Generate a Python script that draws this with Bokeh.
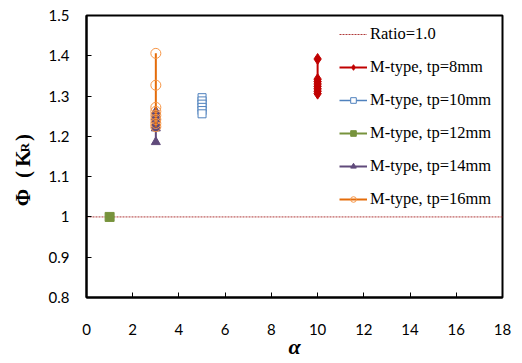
import math
from bokeh.plotting import figure
from bokeh.layouts import row
from bokeh.models import (Range1d, FixedTicker, CustomJSTickFormatter, Legend,
                          LegendItem)
from bokeh.core.properties import value
from bokeh.embed import file_html
from bokeh.resources import INLINE

# ---- data ----
ratio_x = [0, 18]
ratio_y = [1.0, 1.0]

x8 = [10, 10, 10, 10, 10, 10, 10, 10]
y8 = [1.392, 1.342, 1.336, 1.330, 1.324, 1.318, 1.312, 1.306]

x10 = [5, 5, 5, 5, 5, 5]
y10 = [1.296, 1.288, 1.280, 1.272, 1.264, 1.256]

x12 = [1]
y12 = [1.0]

x14 = [3, 3, 3, 3, 3, 3, 3, 3]
y14 = [1.262, 1.255, 1.248, 1.241, 1.234, 1.227, 1.220, 1.186]

x16 = [3, 3, 3, 3, 3, 3, 3, 3]
y16 = [1.406, 1.327, 1.272, 1.262, 1.252, 1.242, 1.232, 1.224]

x_ticks = [0, 2, 4, 6, 8, 10, 12, 14, 16, 18]
y_ticks = [0.8, 0.9, 1.0, 1.1, 1.2, 1.3, 1.4, 1.5]

labels = ["Ratio=1.0", "M-type, tp=8mm", "M-type, tp=10mm", "M-type, tp=12mm",
          "M-type, tp=14mm", "M-type, tp=16mm"]
x_title = "α"
y_title_parts = ["Φ", "(", "K", "R", ")"]

H = 363
LW = 44
TOP, BOT = 15, 297   # frame top/bottom in page pixels (row aligns frames)

# ---- left strip holding the y title (coordinates = page pixels) ----
L = figure(width=LW, height=H, output_backend="svg", toolbar_location=None,
           x_range=Range1d(0, LW), y_range=Range1d(BOT, TOP),
           x_axis_location=None, y_axis_location=None,
           min_border_left=0, min_border_right=0, min_border_top=TOP,
           min_border_bottom=H - BOT)
L.grid.visible = False
L.outline_line_color = None
part_x = [22, 22, 22, 24, 22]
part_y = [197, 174, 158, 147, 137]
part_size = ["21px", "21px", "21px", "13px", "21px"]
for t, xx, yy, fs in zip(y_title_parts, part_x, part_y, part_size):
    L.text(x=[xx], y=[yy], text=[t], angle=math.pi / 2,
           text_font=value("Liberation Serif"), text_font_style="bold",
           text_font_size=fs, text_align="center", text_baseline="middle",
           text_color="black")

# ---- main figure ----
p = figure(width=514 - LW, height=H, output_backend="svg", toolbar_location=None,
           x_range=Range1d(0, 18), y_range=Range1d(0.8, 1.5),
           min_border_left=86 - LW, min_border_right=12, min_border_top=TOP,
           min_border_bottom=H - BOT)
p.grid.visible = False
p.outline_line_color = "black"
p.outline_line_width = 2

for ax in (p.xaxis[0], p.yaxis[0]):
    ax.axis_line_color = "black"
    ax.axis_line_width = 2
    ax.major_tick_in = 5
    ax.major_tick_out = 0
    ax.major_tick_line_color = "black"
    ax.major_tick_line_width = 1
    ax.minor_tick_line_color = None
    ax.major_label_text_font = "Lato"
    ax.major_label_text_font_size = "15px"
    ax.major_label_text_color = "black"

p.xaxis.ticker = FixedTicker(ticks=x_ticks)
p.yaxis.ticker = FixedTicker(ticks=y_ticks)
p.yaxis.formatter = CustomJSTickFormatter(code="return tick.toFixed(1).replace(/\\.0$/, '');")
p.xaxis.major_label_standoff = 26
p.yaxis.major_label_standoff = 17
p.xaxis.axis_label = x_title
p.xaxis.axis_label_text_font = "Liberation Serif"
p.xaxis.axis_label_text_font_style = "bold italic"
p.xaxis.axis_label_text_font_size = "22px"
p.xaxis.axis_label_text_color = "black"
p.xaxis.axis_label_standoff = -4

# ---- series ----
r_ratio = p.line(ratio_x, ratio_y, line_color="#b03a3a", line_width=1, line_dash="2 1")

l8 = p.line(x8, y8, line_color="#C00000", line_width=2)
s8 = p.scatter(x8, y8, marker="diamond", size=11, fill_color="#C00000", line_color="#C00000")

l10 = p.line(x10, y10, line_color="#4F81BD", line_width=1.5)
s10 = p.scatter(x10, y10, marker="square", size=8, fill_color="white", line_color="#4F81BD", line_width=1)

l12 = p.line(x12, y12, line_color="#77933C", line_width=2)
s12 = p.scatter(x12, y12, marker="square", size=9, fill_color="#77933C", line_color="#77933C")

l14 = p.line(x14, y14, line_color="#604A7B", line_width=2)
s14 = p.scatter(x14, y14, marker="triangle", size=9, fill_color="#604A7B", line_color="#604A7B")

l16 = p.line(x16, y16, line_color="#E46C0A", line_width=2)
s16 = p.scatter(x16, y16, marker="circle", size=10, fill_color=None, line_color="#F79646", line_width=1)

legend = Legend(items=[
    LegendItem(label=labels[0], renderers=[r_ratio]),
    LegendItem(label=labels[1], renderers=[l8, s8]),
    LegendItem(label=labels[2], renderers=[l10, s10]),
    LegendItem(label=labels[3], renderers=[l12, s12]),
    LegendItem(label=labels[4], renderers=[l14, s14]),
    LegendItem(label=labels[5], renderers=[l16, s16]),
], location=(253, 88))
legend.padding = 0
legend.margin = 0
legend.spacing = 13
legend.glyph_width = 28
legend.glyph_height = 14
legend.label_height = 14
legend.label_standoff = 3
legend.border_line_alpha = 0
legend.background_fill_alpha = 0
legend.label_text_font = "Liberation Serif"
legend.label_text_font_size = "16.5px"
legend.label_text_color = "black"
p.add_layout(legend)

layout = row(L, p)
open("out.html", "w").write(file_html(layout, INLINE))
